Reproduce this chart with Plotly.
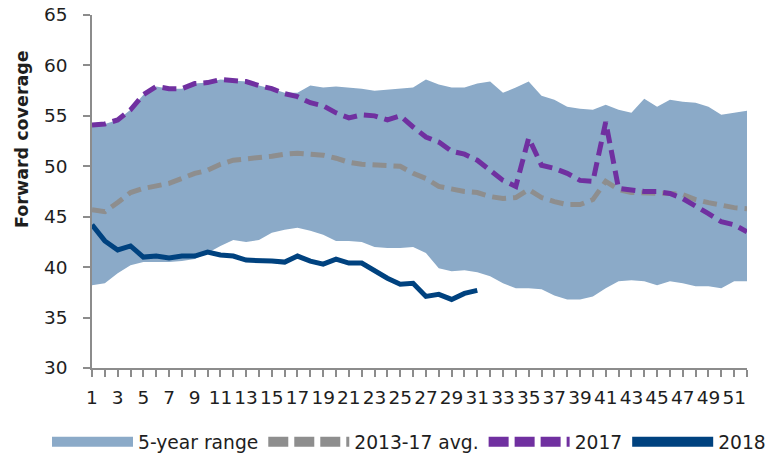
import plotly.graph_objects as go

weeks = list(range(1, 53))
tick_labels = [str(w) if w % 2 == 1 else "" for w in weeks]

range_upper = [54.1, 54.2, 54.6, 55.6, 57.1, 57.9, 57.7, 57.7, 58.2, 58.3,
               58.6, 58.5, 58.4, 58.0, 57.7, 57.3, 57.3, 58.0, 57.8, 57.9,
               57.8, 57.7, 57.5, 57.6, 57.7, 57.8, 58.6, 58.1, 57.8, 57.8,
               58.2, 58.4, 57.3, 57.8, 58.4, 57.0, 56.6, 55.9, 55.7, 55.6,
               56.1, 55.6, 55.3, 56.7, 55.9, 56.6, 56.4, 56.3, 55.9, 55.1,
               55.3, 55.5]
range_lower = [38.2, 38.4, 39.4, 40.2, 40.5, 40.5, 40.5, 40.6, 40.8, 41.4,
               42.1, 42.7, 42.5, 42.7, 43.4, 43.7, 43.9, 43.6, 43.2, 42.6,
               42.6, 42.5, 42.0, 41.9, 41.9, 42.0, 41.4, 39.9, 39.6, 39.7,
               39.5, 39.1, 38.4, 37.9, 37.9, 37.8, 37.2, 36.8, 36.8, 37.1,
               37.9, 38.6, 38.7, 38.6, 38.2, 38.6, 38.4, 38.1, 38.1, 37.9,
               38.6, 38.6]
avg_2013_17 = [45.7, 45.5, 46.4, 47.4, 47.8, 48.0, 48.3, 48.8, 49.3, 49.6,
               50.2, 50.6, 50.7, 50.9, 51.0, 51.2, 51.3, 51.2, 51.1, 50.8,
               50.4, 50.2, 50.1, 50.0, 50.0, 49.3, 48.8, 48.0, 47.7, 47.5,
               47.4, 47.0, 46.8, 46.9, 47.7, 46.9, 46.5, 46.2, 46.2, 46.7,
               48.5, 47.7, 47.4, 47.4, 47.4, 47.3, 47.2, 46.7, 46.4, 46.1,
               45.9, 45.8]
y2017 = [54.1, 54.2, 54.6, 55.6, 57.1, 57.9, 57.7, 57.7, 58.2, 58.3,
         58.6, 58.5, 58.4, 58.0, 57.7, 57.2, 56.9, 56.3, 56.0, 55.3,
         54.8, 55.1, 55.0, 54.6, 55.0, 53.9, 52.9, 52.4, 51.5, 51.2,
         50.6, 49.6, 48.6, 48.0, 52.8, 50.1, 49.8, 49.3, 48.6, 48.5,
         54.4, 47.8, 47.6, 47.5, 47.5, 47.3, 46.8, 46.1, 45.3, 44.5,
         44.2, 43.5]
y2018 = [44.2, 42.6, 41.7, 42.1, 41.0, 41.1, 40.9, 41.1, 41.1, 41.5,
         41.2, 41.1, 40.7, 40.7, 40.6, 40.5, 41.1, 40.6, 40.3, 40.8,
         40.4, 40.4, 39.6, 38.9, 38.3, 38.4, 37.1, 37.3, 36.8, 37.4,
         37.7]
weeks_2018 = weeks[:len(y2018)]

series_names = ["5-year range", "2013-17 avg.", "2017", "2018"]

BAND = "#8BAAC8"
GRAY = "#8E8E8E"
PURPLE = "#7030A0"
NAVY = "#00427F"
FONT = "DejaVu Sans"
TXT = "#1E1E1E"

fig = go.Figure()

# 5-year range band (polygon built from the two bounds)
fig.add_trace(go.Scatter(
    x=weeks + weeks[::-1], y=range_upper + range_lower[::-1],
    fill="toself", fillcolor=BAND, mode="lines", line=dict(width=0, color=BAND),
    showlegend=False, hoverinfo="skip"))

fig.add_trace(go.Scatter(x=weeks, y=avg_2013_17, mode="lines",
                         line=dict(color=GRAY, width=5, dash="14px,7px"),
                         showlegend=False))
fig.add_trace(go.Scatter(x=weeks, y=y2017, mode="lines",
                         line=dict(color=PURPLE, width=5, dash="14px,7px"),
                         showlegend=False))
fig.add_trace(go.Scatter(x=weeks_2018, y=y2018, mode="lines",
                         line=dict(color=NAVY, width=5),
                         showlegend=False))

# legend entries
fig.add_trace(go.Scatter(x=[None], y=[None], mode="lines", name=series_names[0],
                         line=dict(color=BAND, width=12)))
fig.add_trace(go.Scatter(x=[None], y=[None], mode="lines", name=series_names[1],
                         line=dict(color=GRAY, width=10, dash="20px,6px")))
fig.add_trace(go.Scatter(x=[None], y=[None], mode="lines", name=series_names[2],
                         line=dict(color=PURPLE, width=10, dash="20px,6px")))
fig.add_trace(go.Scatter(x=[None], y=[None], mode="lines", name=series_names[3],
                         line=dict(color=NAVY, width=10)))

axis_common = dict(showline=True, linecolor="#8C8C8C", linewidth=1.5,
                   ticks="outside", ticklen=7, tickcolor="#8C8C8C", tickwidth=1.5,
                   showgrid=False, zeroline=False, ticklabeloverflow="allow",
                   tickfont=dict(family=FONT, size=18.5, color=TXT))

fig.update_layout(
    width=777, height=455,
    margin=dict(l=92, r=30, t=15, b=87, autoexpand=False),
    plot_bgcolor="white", paper_bgcolor="white",
    xaxis=dict(range=[1, 52], tickmode="array", tickvals=weeks, ticktext=tick_labels,
               tickangle=0, ticklabelstandoff=5, **axis_common),
    yaxis=dict(range=[30, 65], tickmode="linear", tick0=30, dtick=5,
               ticklabelstandoff=12, **axis_common),
    legend=dict(orientation="h",
                x=(47 - 92) / 655, xanchor="left", y=(368 - 442) / 353, yanchor="middle",
                itemwidth=81, font=dict(family=FONT, size=18.7, color=TXT),
                bgcolor="rgba(0,0,0,0)", traceorder="normal"),
    annotations=[dict(text="<b>Forward coverage</b>", textangle=-90,
                      x=(22 - 92) / 655, y=0.649, xref="paper", yref="paper",
                      xanchor="center", yanchor="middle",
                      showarrow=False, font=dict(family=FONT, size=17.5, color=TXT))],
    showlegend=True,
)

# remove the browser's default 8px body margin so the figure fills the window exactly
fig.write_html("out.html", config={"displayModeBar": False},
               post_script="document.body.style.margin='0px';")
